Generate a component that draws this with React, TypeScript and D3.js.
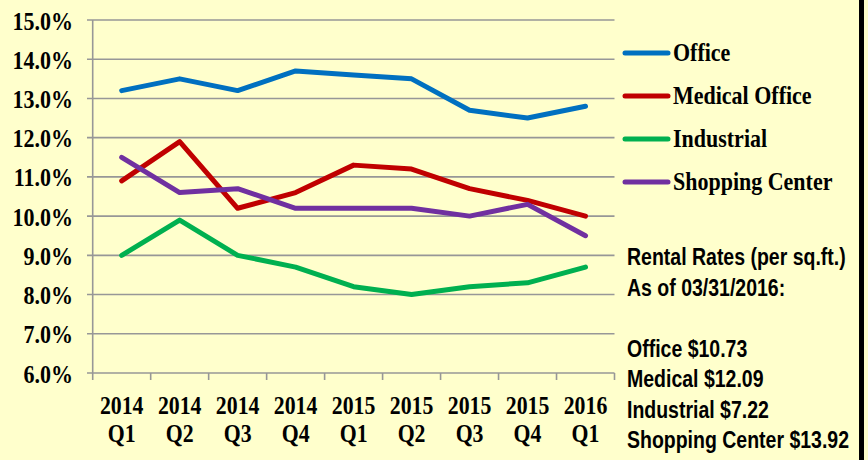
import React from "react";
import * as d3 from "d3";

const categories = ["2014|Q1", "2014|Q2", "2014|Q3", "2014|Q4", "2015|Q1", "2015|Q2", "2015|Q3", "2015|Q4", "2016|Q1"];
const office = [13.2, 13.5, 13.2, 13.7, 13.6, 13.5, 12.7, 12.5, 12.8];
const medical = [10.9, 11.9, 10.2, 10.6, 11.3, 11.2, 10.7, 10.4, 10.0];
const industrial = [9.0, 9.9, 9.0, 8.7, 8.2, 8.0, 8.2, 8.3, 8.7];
const shopping = [11.5, 10.6, 10.7, 10.2, 10.2, 10.2, 10.0, 10.3, 9.5];
const seriesNames = ["Office", "Medical Office", "Industrial", "Shopping Center"];
const seriesColors = ["#0070C0", "#C00000", "#00B050", "#7030A0"];
const yTicks = [6, 7, 8, 9, 10, 11, 12, 13, 14, 15];
const noteLines = [
  "Rental Rates (per sq.ft.)",
  "As of 03/31/2016:",
  "",
  "Office $10.73",
  "Medical $12.09",
  "Industrial $7.22",
  "Shopping Center $13.92",
];

const W = 868;
const H = 460;
const serif = "'Liberation Serif', 'Times New Roman', serif";
const sans = "'Liberation Sans Narrow', 'Arial Narrow', 'Liberation Sans', sans-serif";

export default function App() {
  const seriesData = [office, medical, industrial, shopping];
  const x = d3.scaleBand<string>().domain(categories).range([92.7, 614.5]);
  const y = d3.scaleLinear().domain([6, 15]).range([373, 20]);
  const line = d3
    .line<number>()
    .x((_, i) => (x(categories[i]) as number) + x.bandwidth() / 2)
    .y((d) => y(d));

  const boundaries = [...categories.map((c) => x(c) as number), x.range()[1]];
  const sy = 1.18;

  return (
    <svg
      width={W}
      height={H}
      style={{ position: "fixed", left: 0, top: 0, display: "block" }}
    >
      <rect x={0} y={0} width={W} height={H} fill="#FFFFCC" />
      <rect x={859} y={0} width={5} height={H} fill="#000" />
      {yTicks.map((t) => (
        <g key={t}>
          <line x1={87} x2={614.5} y1={y(t)} y2={y(t)} stroke="#979797" strokeWidth={1.6} />
          <text
            transform={`translate(73,${y(t) + 9.5}) scale(1,${sy})`}
            textAnchor="end"
            fontFamily={serif}
            fontWeight="bold"
            fontSize={22}
            fill="#000"
          >
            {t.toFixed(1) + "%"}
          </text>
        </g>
      ))}
      <line x1={92.7} x2={92.7} y1={20} y2={373} stroke="#979797" strokeWidth={1.6} />
      {boundaries.map((b, i) => (
        <line key={i} x1={b} x2={b} y1={373} y2={380} stroke="#979797" strokeWidth={1.6} />
      ))}
      {categories.map((c) => {
        const [yr, q] = c.split("|");
        const cx = (x(c) as number) + x.bandwidth() / 2;
        return (
          <g key={c}>
            <text
              transform={`translate(${cx},414) scale(1,${sy})`}
              textAnchor="middle"
              fontFamily={serif}
              fontWeight="bold"
              fontSize={21.8}
            >
              {yr}
            </text>
            <text
              transform={`translate(${cx},441.5) scale(1,${sy})`}
              textAnchor="middle"
              fontFamily={serif}
              fontWeight="bold"
              fontSize={21.8}
            >
              {q}
            </text>
          </g>
        );
      })}
      {seriesData.map((s, i) => (
        <path
          key={i}
          d={line(s) || ""}
          fill="none"
          stroke={seriesColors[i]}
          strokeWidth={5}
          strokeLinecap="round"
          strokeLinejoin="round"
        />
      ))}
      {seriesNames.map((n, i) => {
        const ly = 53 + i * 43;
        return (
          <g key={n}>
            <line x1={625} x2={668} y1={ly} y2={ly} stroke={seriesColors[i]} strokeWidth={5} strokeLinecap="round" />
            <text
              transform={`translate(673,${ly + 8}) scale(1,${sy})`}
              fontFamily={serif}
              fontWeight="bold"
              fontSize={22}
            >
              {n}
            </text>
          </g>
        );
      })}
      {noteLines.map((t, i) =>
        t ? (
          <text
            key={i}
            transform={`translate(627,${265 + i * 30.5}) scale(1,${sy})`}
            fontFamily={sans}
            fontWeight="bold"
            fontSize={19.5}
          >
            {t}
          </text>
        ) : null
      )}
    </svg>
  );
}
